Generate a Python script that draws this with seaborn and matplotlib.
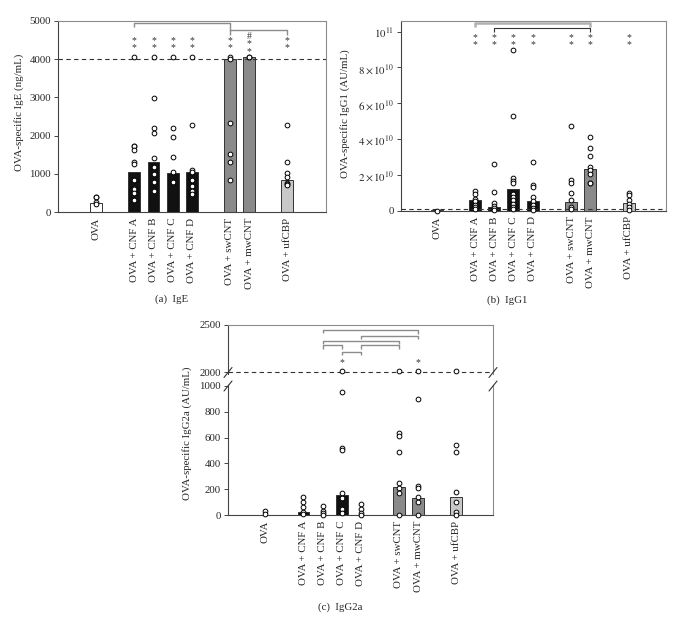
import matplotlib
matplotlib.use("Agg")
import pandas as pd
import matplotlib.pyplot as plt
import seaborn as sns

# groups and bar fills
groups = ["OVA", "OVA + CNF A", "OVA + CNF B", "OVA + CNF C", "OVA + CNF D",
          "OVA + swCNT", "OVA + mwCNT", "OVA + ufCBP"]
bar_colors = ["white", "#111111", "#111111", "#111111", "#111111",
              "#8a8a8a", "#8a8a8a", "#c8c8c8"]

# (a) IgE, ng/mL
ige_bars = [230, 1040, 1300, 1020, 1040, 4000, 4060, 840]
ige_points = [
    [400, 380, 270, 220],
    [4060, 1740, 1740, 1620, 1300, 1260, 840, 620, 600, 500, 320],
    [4060, 2990, 2190, 2060, 1420, 1180, 1000, 790, 560],
    [4060, 2200, 1960, 1440, 1050, 790],
    [4060, 2270, 1090, 1040, 830, 680, 560, 470],
    [4060, 4000, 2320, 1510, 1300, 830],
    [4060, 4060],
    [2290, 1320, 1010, 920, 760, 720, 700],
]
ige_marks = ["", "*\n*", "*\n*", "*\n*", "*\n*", "*\n*", "#\n*\n*", "*\n*"]

# (b) IgG1, AU/mL in units of 1e10
igg1_bars = [0.02, 0.6, 0.22, 1.21, 0.54, 0.48, 2.31, 0.45]
igg1_points = [
    [0.0],
    [1.12, 0.91, 0.65, 0.54, 0.32, 0.22, 0.07],
    [2.59, 1.06, 0.41, 0.26, 0.13, 0.04],
    [8.97, 5.28, 1.84, 1.66, 1.56, 0.91, 0.78, 0.6, 0.4, 0.22, 0.07],
    [2.7, 1.43, 1.3, 0.78, 0.54, 0.32, 0.13, 0.04],
    [4.73, 1.71, 1.53, 1.0, 0.6, 0.22, 0.07],
    [4.13, 3.48, 3.05, 2.46, 2.27, 2.05, 1.56, 1.53],
    [1.0, 0.87, 0.6, 0.37, 0.19, 0.04],
]
igg1_marks = ["", "*\n*", "*\n*", "*\n*", "*\n*", "*\n*", "*\n*", "*\n*"]
igg1_ticks = [0, 2, 4, 6, 8, 10]
igg1_ticklabels = ["0", r"$2\times10^{10}$", r"$4\times10^{10}$",
                   r"$6\times10^{10}$", r"$8\times10^{10}$", r"$10^{11}$"]

# (c) IgG2a, AU/mL (values >= 2000 sit on the capped line)
igg2a_bars = [5, 23, 4, 159, 3, 221, 136, 141]
igg2a_points = [
    [36, 8],
    [139, 105, 67, 28, 8],
    [75, 36, 15, 3],
    [2015, 954, 522, 504, 170, 136, 46, 21],
    [85, 46, 21, 3],
    [2015, 632, 612, 488, 247, 208, 175, 3],
    [2015, 897, 226, 208, 139, 105, 3],
    [2015, 542, 488, 177, 105, 23, 3],
]
igg2a_marks = ["", "", "", "*", "", "", "*", ""]

# significance brackets: (from, to, height, drop left, drop right)
ige_brackets = [("OVA + CNF A", "OVA + swCNT", 4940, 105, 195),
                ("OVA + swCNT", "OVA + ufCBP", 4764, 130, 130)]
igg1_brackets = [("OVA + CNF A", "OVA + mwCNT", 10.46, 0.23, 0.23),
                 ("OVA + CNF B", "OVA + mwCNT", 10.18, 0.19, 0.19)]
igg2a_brackets = [("OVA + CNF B", "OVA + mwCNT", 2447, 35, 40),
                  ("OVA + CNF D", "OVA + mwCNT", 2387, 35, 35),
                  ("OVA + CNF B", "OVA + swCNT", 2334, 35, 35),
                  ("OVA + CNF B", "OVA + CNF C", 2289, 43, 43),
                  ("OVA + CNF D", "OVA + swCNT", 2289, 43, 43),
                  ("OVA + CNF C", "OVA + CNF D", 2218, 35, 35)]

# layout: gaps between the groups of treatments
slots = [0, 2, 3, 4, 5, 7, 8, 10]
slot_of = dict(zip(groups, slots))

W, H = 689, 620
sns.set_style("ticks")
plt.rcParams["font.family"] = ["Liberation Serif", "DejaVu Serif"]
plt.rcParams["mathtext.fontset"] = "stix"
FS = 7.8
plt.rcParams["font.size"] = FS
SPINE_DARK = "#444444"
SPINE_LIGHT = "#8c8c8c"


def px_axes(fig, left, top, right, bottom):
    return fig.add_axes([left / W, 1 - bottom / H, (right - left) / W, (bottom - top) / H])


def long_points(values, keep=lambda v: True):
    rows = [(slots[i], v) for i, vals in enumerate(values) for v in vals if keep(v)]
    return pd.DataFrame(rows, columns=["pos", "value"])


def draw_bars(ax, heights):
    df = pd.DataFrame({"pos": slots, "value": heights, "group": groups})
    sns.barplot(data=df, x="pos", y="value", hue="group",
                palette=dict(zip(groups, bar_colors)), native_scale=True,
                width=0.62, dodge=False, edgecolor="#333333", linewidth=0.7,
                errorbar=None, legend=False, ax=ax)


def draw_points(ax, df):
    sns.stripplot(data=df, x="pos", y="value", native_scale=True, jitter=False,
                  color="white", edgecolor="black", linewidth=0.7, size=3.4,
                  ax=ax, zorder=4, clip_on=False)


def draw_brackets(ax, brackets, color, lw):
    for a, b, y, d1, d2 in brackets:
        x1, x2 = slot_of[a], slot_of[b]
        ax.plot([x1, x1, x2, x2], [y - d1, y, y, y - d2], color=color, lw=lw,
                solid_capstyle="butt", clip_on=False, zorder=5)


def draw_marks(ax, marks, y):
    for g, m in zip(groups, marks):
        if m:
            ax.text(slot_of[g], y, m, ha="center", va="center", fontsize=7,
                    linespacing=0.75, color="#333333")


def style_axes(ax, xlim, labels=True):
    ax.set_xlim(*xlim)
    ax.set_xlabel("")
    ax.set_ylabel("")
    ax.set_xticks(slots)
    if labels:
        ax.set_xticklabels(groups, rotation=90, fontsize=FS)
    else:
        ax.set_xticklabels([])
    ax.tick_params(axis="x", length=0, pad=4)
    ax.tick_params(axis="y", length=3, width=0.7, color=SPINE_DARK, labelsize=FS, pad=2)
    for side in ["left", "bottom"]:
        ax.spines[side].set_color(SPINE_DARK)
        ax.spines[side].set_linewidth(0.8)
    for side in ["top", "right"]:
        ax.spines[side].set_color(SPINE_LIGHT)
        ax.spines[side].set_linewidth(0.8)
        ax.spines[side].set_visible(True)


fig = plt.figure(figsize=(W / 100, H / 100), dpi=100)

# (a) IgE
ax_a = px_axes(fig, 58, 21, 326, 212)
draw_bars(ax_a, ige_bars)
draw_points(ax_a, long_points(ige_points))
ax_a.axhline(4000, color="#333333", lw=0.8, dashes=(4, 3), zorder=3)
style_axes(ax_a, (-2.0, 12.03))
ax_a.set_ylim(0, 5000)
ax_a.set_yticks([0, 1000, 2000, 3000, 4000, 5000])
draw_brackets(ax_a, ige_brackets, "#8c8c8c", 1.0)
draw_marks(ax_a, ige_marks, 4400)
ax_a.set_ylabel("OVA-specific IgE (ng/mL)", fontsize=FS)
ax_a.yaxis.set_label_coords(-0.125, 0.52)
fig.text(172 / W, 1 - 299 / H, "(a)  IgE", ha="center", va="center", fontsize=FS)

# (b) IgG1
ax_b = px_axes(fig, 401, 21, 666, 210.7)
draw_bars(ax_b, igg1_bars)
draw_points(ax_b, long_points(igg1_points))
ax_b.axhline(0.08, color="#333333", lw=0.8, dashes=(4, 3), zorder=3)
style_axes(ax_b, (-1.86, 11.95))
ax_b.set_ylim(0, 10.59)
ax_b.set_yticks(igg1_ticks)
ax_b.set_yticklabels(igg1_ticklabels)
draw_brackets(ax_b, igg1_brackets[:1], "#b0b0b0", 1.8)
draw_brackets(ax_b, igg1_brackets[1:], "#333333", 0.8)
draw_marks(ax_b, igg1_marks, 9.45)
ax_b.set_ylabel("OVA-specific IgG1 (AU/mL)", fontsize=FS)
ax_b.yaxis.set_label_coords(-0.192, 0.51)
fig.text(507 / W, 1 - 300 / H, "(b)  IgG1", ha="center", va="center", fontsize=FS)

# (c) IgG2a, broken y axis
ax_ct = px_axes(fig, 228, 325, 493, 373.7)
ax_cb = px_axes(fig, 228, 385, 493, 515.3)
draw_bars(ax_cb, igg2a_bars)
draw_points(ax_cb, long_points(igg2a_points, lambda v: v < 1500))
draw_points(ax_ct, long_points(igg2a_points, lambda v: v >= 1500))
ax_ct.axhline(2000, color="#333333", lw=0.8, dashes=(4, 3), zorder=3)
style_axes(ax_cb, (-1.95, 11.92))
style_axes(ax_ct, (-1.95, 11.92), labels=False)
ax_cb.set_ylim(0, 1005)
ax_cb.set_yticks([0, 200, 400, 600, 800, 1000])
ax_ct.set_ylim(1985, 2500)
ax_ct.set_yticks([2000, 2500])
ax_ct.spines["bottom"].set_visible(False)
ax_cb.spines["top"].set_visible(False)
draw_brackets(ax_ct, igg2a_brackets, "#8c8c8c", 1.0)
draw_marks(ax_ct, igg2a_marks, 2105)
fig.text(187 / W, 1 - 433 / H, "OVA-specific IgG2a (AU/mL)", rotation=90,
         ha="center", va="center", fontsize=FS)
fig.text(340 / W, 1 - 607 / H, "(c)  IgG2a", ha="center", va="center", fontsize=FS)

# break marks on both spines
for xs in (228, 493):
    for yc in (372.5, 386):
        fig.add_artist(plt.Line2D([(xs - 4) / W, (xs + 4) / W],
                                  [1 - (yc + 5) / H, 1 - (yc - 5) / H],
                                  color="#333333", lw=0.8))

fig.savefig("out.png", dpi=100)
